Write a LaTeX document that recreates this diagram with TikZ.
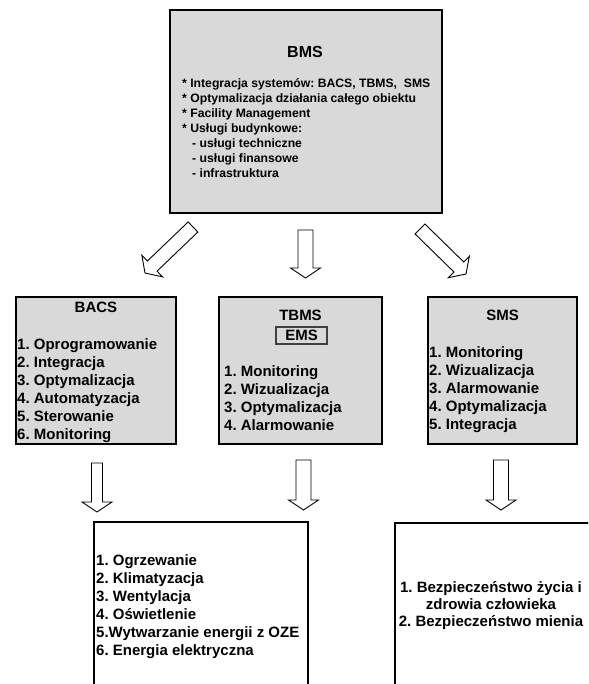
\documentclass[tikz,border=0pt]{standalone}
\usepackage{fontspec}
\setmainfont{Liberation Sans}
\usetikzlibrary{positioning,calc}

\definecolor{boxgray}{HTML}{D9D9D9}

% hollow block arrow from tail #2 to tip #3, shaft half width #1
\newcommand{\blockarrow}[3][7pt]{%
	\coordinate (hb) at ($(#3)!10pt!(#2)$);
	\draw[barrow] ($(#2)!#1!90:(#3)$) -- ($(hb)!#1!90:(#3)$) -- ($(hb)!15pt!90:(#3)$) -- (#3)
		-- ($(hb)!15pt!-90:(#3)$) -- ($(hb)!#1!-90:(#3)$) -- ($(#2)!#1!-90:(#3)$) -- cycle;%
}

\tikzset{
	panel/.style={draw, line width=2.5pt, fill=boxgray, inner sep=0pt},
	openbox/.style={draw, line width=2.5pt, fill=white, inner sep=0pt},
	title/.style={inner sep=0pt, font=\bfseries\fontsize{15}{18}\selectfont},
	list/.style={inner sep=0pt, align=left, anchor=north west, font=\bfseries\fontsize{15}{18}\selectfont},
	barrow/.style={draw, line width=0.9pt, fill=white, line join=miter},
}

\begin{document}
\frenchspacing
\begin{tikzpicture}[x=1pt,y=-1pt]
		\clip (0,0) rectangle (588,684);
		\fill[white] (0,0) rectangle (588,684);

		% top level
		\node[panel, minimum width=272pt, minimum height=203pt] (bms) at (306,111.5) {};
		\node[title, font=\bfseries\fontsize{16}{19}\selectfont] (bmst) at (305,51.5) {BMS};
		\node[list, font=\bfseries\fontsize{12.2}{15}\selectfont] (bmsl) at (182,78) {%
			* Integracja systemów: BACS, TBMS,\ \ SMS\\
			* Optymalizacja działania całego obiektu\\
			* Facility Management\\
			* Usługi budynkowe:\\
			\hspace{10pt}- usługi techniczne\\
			\hspace{10pt}- usługi finansowe\\
			\hspace{10pt}- infrastruktura};

		% middle level
		\node[panel, minimum width=160pt, minimum height=147pt] (bacs) at (96,370.5) {};
		\node[title, below=6pt of bacs.north] (bacst) {BACS};
		\node[list] (bacsl) at (17,338) {%
			1. Oprogramowanie\\
			2. Integracja\\
			3. Optymalizacja\\
			4. Automatyzacja\\
			5. Sterowanie\\
			6. Monitoring};

		\node[panel, minimum width=163pt, minimum height=147pt] (tbms) at (300.5,370.5) {};
		\node[title, below=14.5pt of tbms.north] (tbmst) {TBMS};
		\node[title, draw=black!75, line width=1.2pt, minimum width=51pt, minimum height=17pt] (ems) at (301.5,335.5) {EMS};
		\node[list] (tbmsl) at (224,365.5) {%
			1. Monitoring\\
			2. Wizualizacja\\
			3. Optymalizacja\\
			4. Alarmowanie};

		\node[panel, minimum width=149pt, minimum height=147pt] (sms) at (502.5,370.5) {};
		\node[title, below=14.5pt of sms.north] (smst) {SMS};
		\node[list] (smsl) at (429,346.5) {%
			1. Monitoring\\
			2. Wizualizacja\\
			3. Alarmowanie\\
			4. Optymalizacja\\
			5. Integracja};

		% bottom level
		\node[openbox, minimum width=214pt, minimum height=200pt] (media) at (201,622) {};
		\node[list] (medial) at (96,554) {%
			1. Ogrzewanie\\
			2. Klimatyzacja\\
			3. Wentylacja\\
			4. Oświetlenie\\
			5.Wytwarzanie energii z OZE\\
			6. Energia elektryczna};

		\node[openbox, minimum width=225pt, minimum height=200pt] (safety) at (507.5,623) {};
		\node[title, align=center, font=\bfseries\fontsize{15}{17}\selectfont] (safetyl) at (491,605.5) {%
			1. Bezpieczeństwo życia i\\
			zdrowia człowieka\\
			2. Bezpieczeństwo mienia};

		% arrow ends
		\coordinate (a1) at (193,227);   \coordinate (a1e) at (145,273);
		\coordinate (a2) at (305.5,230); \coordinate (a2e) at (305.5,278);
		\coordinate (a3) at (420,229);   \coordinate (a3e) at (466,274);
		\coordinate (b1) at (97,463);    \coordinate (b1e) at (97,512);
		\coordinate (b2) at (303.5,460); \coordinate (b2e) at (303.5,510);
		\coordinate (b3) at (501,460);   \coordinate (b3e) at (501,510);

		\blockarrow{a1}{a1e}
		\blockarrow[7.5pt]{a2}{a2e}
		\blockarrow{a3}{a3e}
		\blockarrow[5.5pt]{b1}{b1e}
		\blockarrow[7.5pt]{b2}{b2e}
		\blockarrow[7.5pt]{b3}{b3e}
	\end{tikzpicture}
\end{document}
